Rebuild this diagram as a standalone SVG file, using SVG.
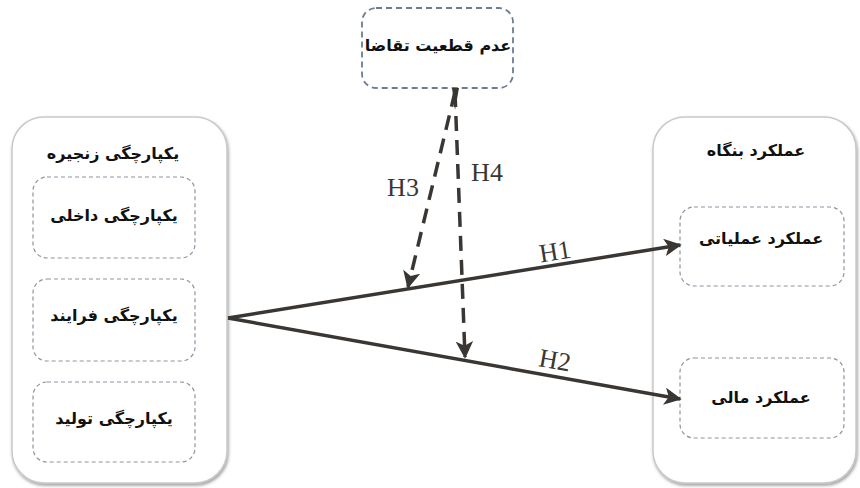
<svg xmlns="http://www.w3.org/2000/svg" width="860" height="488" viewBox="0 0 860 488">
<defs>
<filter id="sh" x="-10%" y="-10%" width="125%" height="125%">
<feDropShadow dx="1" dy="2" stdDeviation="1.5" flood-color="#555" flood-opacity="0.55"/>
</filter>
<marker id="ah" viewBox="0 0 10 10" refX="9" refY="5" markerWidth="5" markerHeight="5" orient="auto" markerUnits="strokeWidth">
<path d="M0,0 L10,5 L0,10 L2.5,5 z" fill="#3a3633"/>
</marker>
</defs>
<style>
.outer{fill:#fff;stroke:#c9c9c9;stroke-width:1.5;filter:url(#sh)}
.inner{fill:#fff;stroke:#8e93a0;stroke-width:1.2;stroke-dasharray:4 3}
.top{fill:#fff;stroke:#6e7c92;stroke-width:1.8;stroke-dasharray:6 4}
.fa{font-family:"DejaVu Sans","Noto Sans",sans-serif;font-weight:bold;font-size:16px;fill:#111;text-anchor:middle;direction:rtl}
.h{font-family:"Liberation Serif","DejaVu Serif",serif;font-size:26px;fill:#3a3633;text-anchor:middle}
.solid{stroke:#3a3633;stroke-width:3.5;fill:none;marker-end:url(#ah)}
.dash{stroke:#3a3633;stroke-width:3.5;fill:none;stroke-dasharray:15 9;marker-end:url(#ah)}
</style>
<rect width="860" height="488" fill="#fff"/>
<g id="chain">
<rect class="outer" x="12" y="117" width="215" height="366" rx="32"/>
<text class="fa" x="113" y="159">یکپارچگی زنجیره</text>
</g>
<g id="internal">
<rect class="inner" x="33" y="177" width="162" height="81" rx="14"/>
<text class="fa" x="114" y="221">یکپارچگی داخلی</text>
</g>
<g id="process">
<rect class="inner" x="33" y="279" width="162" height="82" rx="14"/>
<text class="fa" x="114" y="321">یکپارچگی فرایند</text>
</g>
<g id="production">
<rect class="inner" x="33" y="382" width="162" height="80" rx="14"/>
<text class="fa" x="114" y="424">یکپارچگی تولید</text>
</g>
<g id="performance">
<rect class="outer" x="653" y="117" width="203" height="366" rx="32"/>
<text class="fa" x="756" y="156">عملکرد بنگاه</text>
</g>
<g id="operational">
<rect class="inner" x="680" y="207" width="164" height="79" rx="14"/>
<text class="fa" x="761" y="244">عملکرد عملیاتی</text>
</g>
<g id="financial">
<rect class="inner" x="680" y="358" width="164" height="80" rx="14"/>
<text class="fa" x="761" y="403">عملکرد مالی</text>
</g>
<g id="uncertainty">
<rect class="top" x="362" y="8" width="151" height="80" rx="14"/>
<text class="fa" x="438" y="51">عدم قطعیت تقاضا</text>
</g>
<g id="connectors">
<path class="solid" d="M228,318 L680,245"/>
<path class="solid" d="M228,318 L680,399"/>
<path d="M452,88 L459,88 L455,110 Z" fill="#3a3633"/>
<path class="dash" d="M455,92 L408,287"/>
<path class="dash" d="M455,92 L465,357"/>
<text class="h" x="403" y="196">H3</text>
<text class="h" x="487" y="181">H4</text>
<text class="h" x="555" y="260" transform="rotate(-9.2 555 251)">H1</text>
<text class="h" x="555" y="369" transform="rotate(10.2 555 360)">H2</text>
</g>
</svg>
